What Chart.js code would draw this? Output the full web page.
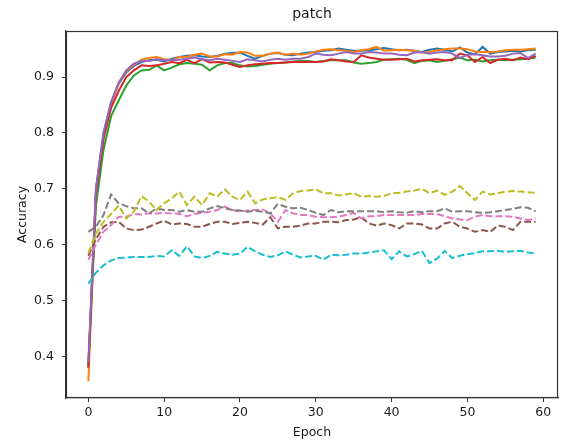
<!DOCTYPE html>
<html>
<head>
<meta charset="utf-8">
<script src="https://cdn.jsdelivr.net/npm/chart.js@4/dist/chart.umd.min.js"></script>
<style>
html,body{margin:0;padding:0;background:#fff;}
#wrap{width:562px;height:445px;}
</style>
</head>
<body>
<div id="wrap"><canvas id="c" width="562" height="445"></canvas></div>
<script>
const epochs = Array.from({length: 60}, (_, i) => i);
const xTicks = [0, 10, 20, 30, 40, 50, 60];
const yTicks = [0.4, 0.5, 0.6, 0.7, 0.8, 0.9];

const blueSeries = [0.38,0.70,0.80,0.855,0.888,0.908,0.92,0.927,0.93,0.931,0.928,0.933,0.936,0.938,0.939,0.937,0.936,0.938,0.942,0.943,0.944,0.938,0.933,0.938,0.942,0.943,0.94,0.939,0.942,0.944,0.945,0.947,0.948,0.951,0.949,0.947,0.947,0.948,0.95,0.952,0.95,0.948,0.949,0.947,0.945,0.949,0.951,0.949,0.946,0.953,0.944,0.941,0.954,0.942,0.945,0.946,0.947,0.946,0.948,0.949];
const orangeSeries = [0.355,0.69,0.79,0.85,0.89,0.91,0.922,0.931,0.934,0.936,0.932,0.93,0.936,0.936,0.94,0.942,0.937,0.937,0.941,0.94,0.945,0.944,0.938,0.938,0.942,0.944,0.94,0.942,0.94,0.942,0.946,0.949,0.95,0.948,0.947,0.945,0.948,0.95,0.954,0.947,0.948,0.949,0.948,0.947,0.944,0.945,0.948,0.95,0.951,0.951,0.95,0.946,0.945,0.945,0.946,0.948,0.949,0.949,0.95,0.951];
const greenSeries = [0.385,0.67,0.77,0.83,0.858,0.885,0.903,0.912,0.913,0.921,0.912,0.917,0.923,0.925,0.924,0.922,0.912,0.921,0.925,0.925,0.921,0.919,0.92,0.922,0.924,0.925,0.926,0.928,0.929,0.929,0.927,0.929,0.93,0.93,0.93,0.926,0.924,0.925,0.927,0.931,0.932,0.933,0.931,0.925,0.929,0.93,0.927,0.929,0.932,0.935,0.93,0.931,0.928,0.93,0.931,0.93,0.931,0.932,0.933,0.935];
const redSeries = [0.38,0.69,0.79,0.845,0.875,0.9,0.912,0.921,0.92,0.921,0.924,0.927,0.925,0.931,0.925,0.932,0.926,0.927,0.926,0.922,0.918,0.921,0.923,0.924,0.925,0.925,0.926,0.927,0.927,0.927,0.927,0.928,0.932,0.93,0.928,0.927,0.939,0.935,0.933,0.931,0.931,0.932,0.933,0.928,0.93,0.931,0.932,0.93,0.93,0.942,0.939,0.927,0.936,0.925,0.931,0.933,0.93,0.935,0.932,0.938];
const purpleSeries = [0.39,0.70,0.80,0.855,0.89,0.912,0.924,0.929,0.929,0.932,0.93,0.93,0.931,0.933,0.935,0.932,0.93,0.933,0.931,0.929,0.927,0.932,0.93,0.928,0.931,0.933,0.931,0.933,0.933,0.936,0.942,0.94,0.939,0.942,0.945,0.942,0.942,0.945,0.944,0.942,0.942,0.94,0.939,0.944,0.945,0.942,0.944,0.945,0.942,0.934,0.94,0.941,0.939,0.937,0.937,0.938,0.942,0.943,0.934,0.942];
const brownSeries = [0.58,0.61,0.632,0.64,0.641,0.629,0.626,0.627,0.632,0.638,0.643,0.636,0.638,0.637,0.632,0.632,0.637,0.641,0.641,0.637,0.639,0.641,0.639,0.636,0.649,0.629,0.632,0.632,0.634,0.638,0.638,0.641,0.641,0.64,0.644,0.645,0.649,0.638,0.634,0.638,0.635,0.629,0.638,0.638,0.636,0.629,0.629,0.638,0.641,0.632,0.629,0.623,0.626,0.623,0.634,0.632,0.626,0.641,0.641,0.641];
const pinkSeries = [0.573,0.6,0.623,0.635,0.65,0.65,0.655,0.654,0.656,0.656,0.657,0.656,0.655,0.651,0.655,0.657,0.659,0.662,0.668,0.662,0.659,0.661,0.662,0.663,0.656,0.641,0.662,0.656,0.653,0.653,0.65,0.649,0.649,0.65,0.653,0.657,0.647,0.651,0.651,0.653,0.653,0.653,0.653,0.653,0.655,0.655,0.655,0.651,0.647,0.645,0.644,0.65,0.653,0.651,0.651,0.651,0.65,0.647,0.644,0.647];
const graySeries = [0.623,0.632,0.653,0.69,0.674,0.669,0.665,0.665,0.656,0.665,0.662,0.662,0.659,0.662,0.659,0.659,0.665,0.669,0.665,0.662,0.661,0.659,0.661,0.659,0.656,0.673,0.668,0.665,0.666,0.662,0.657,0.653,0.662,0.658,0.66,0.66,0.66,0.66,0.66,0.658,0.66,0.658,0.657,0.66,0.658,0.66,0.66,0.665,0.659,0.66,0.66,0.658,0.657,0.658,0.66,0.662,0.664,0.667,0.666,0.66];
const oliveSeries = [0.585,0.62,0.641,0.655,0.67,0.647,0.659,0.687,0.677,0.662,0.674,0.683,0.695,0.671,0.686,0.671,0.692,0.686,0.699,0.686,0.68,0.695,0.674,0.681,0.683,0.685,0.68,0.692,0.696,0.697,0.699,0.692,0.692,0.688,0.69,0.692,0.686,0.687,0.686,0.687,0.692,0.693,0.695,0.697,0.7,0.692,0.697,0.689,0.695,0.705,0.692,0.68,0.695,0.69,0.692,0.695,0.696,0.695,0.694,0.693];
const cyanSeries = [0.53,0.55,0.563,0.572,0.576,0.577,0.578,0.578,0.578,0.58,0.579,0.59,0.58,0.597,0.579,0.576,0.58,0.587,0.584,0.582,0.584,0.596,0.588,0.582,0.578,0.581,0.588,0.582,0.577,0.579,0.58,0.573,0.582,0.581,0.582,0.584,0.584,0.586,0.588,0.59,0.574,0.588,0.579,0.583,0.589,0.567,0.575,0.589,0.576,0.58,0.583,0.585,0.588,0.588,0.589,0.587,0.588,0.589,0.586,0.585];

const seriesList = [
  {data: blueSeries, color: '#1f77b4', dashed: false},
  {data: orangeSeries, color: '#ff7f0e', dashed: false},
  {data: greenSeries, color: '#2ca02c', dashed: false},
  {data: redSeries, color: '#d62728', dashed: false},
  {data: purpleSeries, color: '#9467bd', dashed: false},
  {data: brownSeries, color: '#8c564b', dashed: true},
  {data: pinkSeries, color: '#e377c2', dashed: true},
  {data: graySeries, color: '#7f7f7f', dashed: true},
  {data: oliveSeries, color: '#bcbd22', dashed: true},
  {data: cyanSeries, color: '#17becf', dashed: true}
];

const datasets = seriesList.map((s, i) => ({
  data: s.data.map((v, k) => ({x: epochs[k], y: v})),
  borderColor: s.color,
  backgroundColor: s.color,
  borderWidth: 2,
  borderDash: s.dashed ? [7, 3] : [],
  pointRadius: 0,
  tension: 0,
  fill: false,
  order: seriesList.length - i
}));

const frame = {
  id: 'frame',
  afterDatasetsDraw(chart) {
    const a = chart.chartArea, ctx = chart.ctx;
    ctx.save();
    ctx.strokeStyle = '#333';
    ctx.lineWidth = 1.2;
    ctx.strokeRect(Math.round(a.left) + 0.5, Math.round(a.top) + 0.5, Math.round(a.right - a.left) - 1, Math.round(a.bottom - a.top) - 1);
    ctx.restore();
  }
};

const FONT = "'DejaVu Sans', sans-serif";
new Chart(document.getElementById('c'), {
  type: 'line',
  data: {datasets},
  plugins: [frame],
  options: {
    responsive: false,
    animation: false,
    layout: {padding: {left: 0, right: 4, top: 0, bottom: 0}},
    plugins: {
      legend: {display: false},
      tooltip: {enabled: false},
      title: {
        display: true,
        text: 'patch',
        fullSize: false,
        color: '#1a1a1a',
        font: {family: FONT, size: 14, weight: 'normal'},
        padding: {top: 6, bottom: 8.2}
      }
    },
    scales: {
      x: {
        type: 'linear',
        min: -2.95,
        max: 61.95,
        afterBuildTicks: (s) => { s.ticks = xTicks.map(v => ({value: v})); },
        afterFit: (s) => { s.height = 47; },
        grid: {display: true, drawOnChartArea: false, drawTicks: true, tickLength: 4, color: '#333'},
        border: {display: true, color: '#333', width: 1.2},
        ticks: {color: '#1a1a1a', font: {family: FONT, size: 12.5}, padding: 3, maxRotation: 0},
        title: {display: true, text: 'Epoch', color: '#1a1a1a', font: {family: FONT, size: 12.5}, padding: {top: 0, bottom: 5}}
      },
      y: {
        type: 'linear',
        min: 0.3255,
        max: 0.9825,
        afterBuildTicks: (s) => { s.ticks = yTicks.map(v => ({value: v})); },
        afterFit: (s) => { s.width = 66; },
        grid: {display: true, drawOnChartArea: false, drawTicks: true, tickLength: 4, color: '#333'},
        border: {display: true, color: '#333', width: 1.2},
        ticks: {color: '#1a1a1a', font: {family: FONT, size: 12.5}, padding: 8, callback: (v) => v.toFixed(1)},
        title: {display: true, text: 'Accuracy', color: '#1a1a1a', font: {family: FONT, size: 12.5}, padding: {top: 15, bottom: 0}}
      }
    }
  }
});
</script>
</body>
</html>
